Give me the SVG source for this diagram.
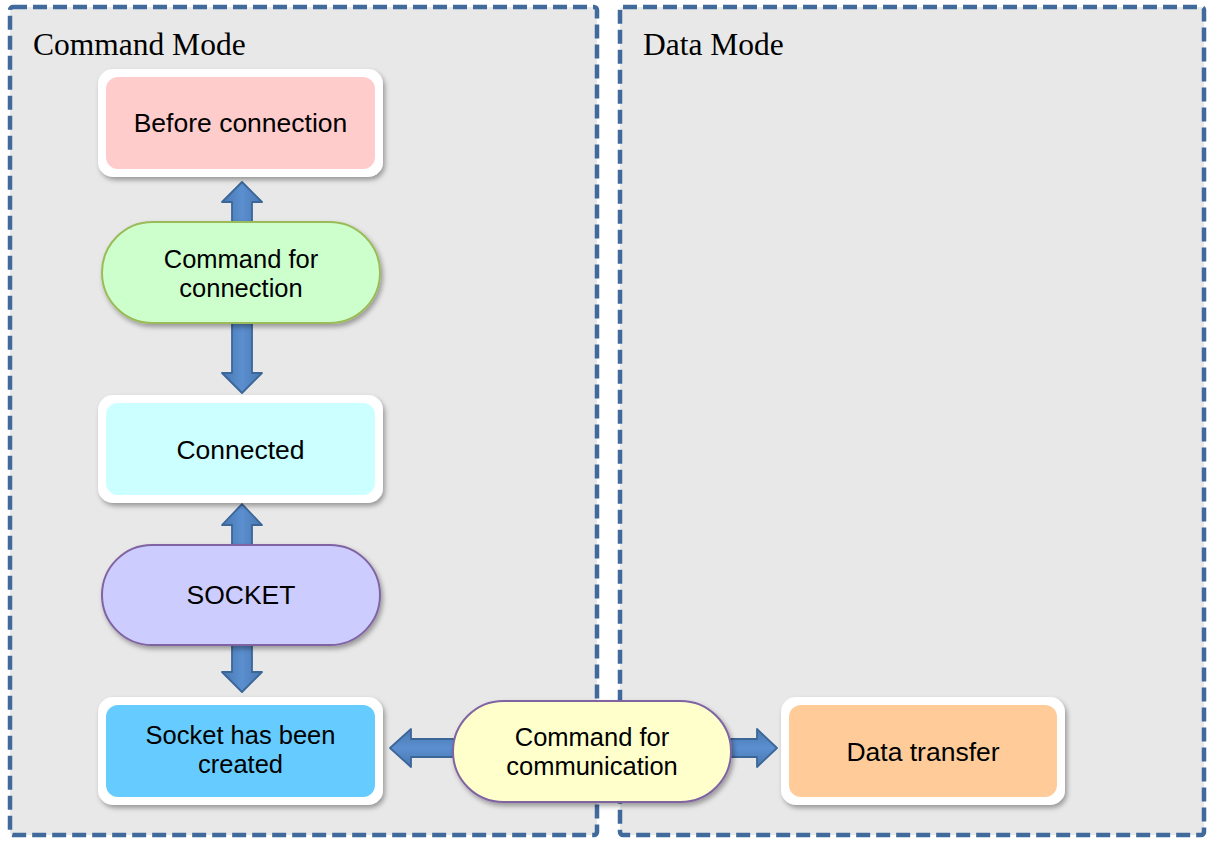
<svg xmlns="http://www.w3.org/2000/svg" width="1207" height="841" viewBox="0 0 1207 841">
  <style>
    .panel { fill: #e8e8e8; stroke: #40699c; stroke-width: 4.5; stroke-dasharray: 14 6; }
    .title { font-family: "Liberation Serif", "Times New Roman", serif; font-size: 31.5px; fill: #000; }
    .label { font-family: "Liberation Sans", Arial, sans-serif; font-size: 26.5px; fill: #000; text-anchor: middle; }
    .label2 { font-family: "Liberation Sans", Arial, sans-serif; font-size: 25.5px; fill: #000; text-anchor: middle; }
    .frame { fill: #ffffff; filter: url(#shadow); }
    .arrow { fill: url(#arrowV); stroke: #3b6698; stroke-width: 1.8; stroke-linejoin: round; }
    .arrowH { fill: url(#arrowH); stroke: #3b6698; stroke-width: 1.8; stroke-linejoin: round; }
    .pill { stroke-width: 2; filter: url(#shadow); }
  </style>
  <defs>
    <filter id="shadow" x="-10%" y="-10%" width="125%" height="135%">
      <feDropShadow dx="2" dy="3" stdDeviation="2.5" flood-color="#000" flood-opacity="0.35"/>
    </filter>
    <linearGradient id="arrowV" x1="0" y1="0" x2="1" y2="0">
      <stop offset="0" stop-color="#4a78b0"/>
      <stop offset="0.5" stop-color="#5b8fd0"/>
      <stop offset="1" stop-color="#4a78b0"/>
    </linearGradient>
    <linearGradient id="arrowH" x1="0" y1="0" x2="0" y2="1">
      <stop offset="0" stop-color="#4a78b0"/>
      <stop offset="0.5" stop-color="#5b8fd0"/>
      <stop offset="1" stop-color="#4a78b0"/>
    </linearGradient>
  </defs>

  <rect width="1207" height="841" fill="#ffffff"/>

  <!-- mode panels -->
  <g id="command-mode">
    <rect class="panel" x="10" y="7" width="587" height="828" rx="3"/>
    <text class="title" x="33" y="55">Command Mode</text>
  </g>
  <g id="data-mode">
    <rect class="panel" x="620" y="7" width="584" height="828" rx="3"/>
    <text class="title" x="643" y="55">Data Mode</text>
  </g>

  <!-- connectors: double-headed block arrows, drawn beneath the nodes -->
  <g id="connectors">
    <polygon class="arrow" points="242,182 262,202 252,202 252,373 262,373 242,393 222,373 232,373 232,202 222,202"/>
    <polygon class="arrow" points="242,504 262,525 252,525 252,672 262,672 242,692 222,672 232,672 232,525 222,525"/>
    <polygon class="arrowH" points="390,748 411,729 411,739 757,739 757,729 777,748 757,767 757,757 411,757 411,767"/>
  </g>

  <g id="before-connection">
    <rect class="frame" x="98" y="69" width="285" height="108" rx="15"/>
    <rect x="106" y="77" width="269" height="92" rx="12" fill="#ffcccc"/>
    <text class="label" x="240.500" y="132">Before connection</text>
  </g>

  <g id="command-for-connection">
    <rect class="pill" x="102" y="222" width="278" height="101" rx="50.500" fill="#ccffcc" stroke="#9bbb59"/>
    <text class="label2" x="241" y="268"><tspan x="241">Command for</tspan><tspan x="241" dy="28.500">connection</tspan></text>
  </g>

  <g id="connected">
    <rect class="frame" x="98" y="395" width="285" height="108" rx="15"/>
    <rect x="106" y="403" width="269" height="92" rx="12" fill="#ccffff"/>
    <text class="label" x="240.500" y="459">Connected</text>
  </g>

  <g id="socket">
    <rect class="pill" x="102" y="545" width="278" height="100" rx="50" fill="#ccccff" stroke="#8064a2"/>
    <text class="label" x="241" y="604">SOCKET</text>
  </g>

  <g id="socket-created">
    <rect class="frame" x="98" y="697" width="285" height="108" rx="15"/>
    <rect x="106" y="705" width="269" height="92" rx="12" fill="#66ccff"/>
    <text class="label2" x="240.500" y="744"><tspan x="240.500">Socket has been</tspan><tspan x="240.500" dy="28.500">created</tspan></text>
  </g>

  <g id="command-for-communication">
    <rect class="pill" x="453" y="701" width="278" height="101" rx="50.500" fill="#ffffcc" stroke="#8064a2"/>
    <text class="label2" x="592" y="746"><tspan x="592">Command for</tspan><tspan x="592" dy="28.500">communication</tspan></text>
  </g>

  <g id="data-transfer">
    <rect class="frame" x="781" y="697" width="284" height="108" rx="15"/>
    <rect x="789" y="705" width="268" height="92" rx="12" fill="#ffcc99"/>
    <text class="label" x="923" y="761">Data transfer</text>
  </g>
</svg>
